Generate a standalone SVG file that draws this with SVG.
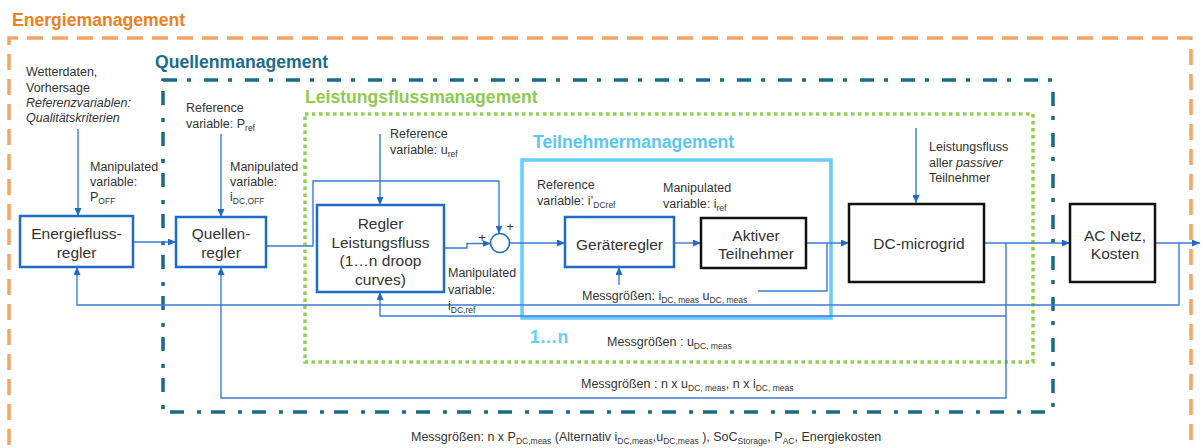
<svg xmlns="http://www.w3.org/2000/svg" width="1201" height="448" viewBox="0 0 1201 448">
  <defs>
    <marker id="ah" viewBox="0 0 8 7" refX="8" refY="3.5" markerWidth="8" markerHeight="7" markerUnits="userSpaceOnUse" orient="auto">
      <path d="M0,0 L8,3.5 L0,7 z" fill="#1F6BC5"/>
    </marker>
    <style>
      text { font-family: "Liberation Sans", Arial, sans-serif; }
      .lbl { font-size: 12.5px; fill: #333; }
      .sub { font-size: 8.5px; }
      .ntx { font-size: 15.5px; fill: #333; text-anchor: middle; }
      .title { font-size: 17.6px; font-weight: bold; }
      .blk { fill: #fff; stroke: #1F6BC5; stroke-width: 2.5; }
      .blk.dark { stroke: #111; }
      .wire { fill: none; stroke: #3A7BD5; stroke-width: 1.4; }
      .wire.arr { marker-end: url(#ah); }
    </style>
  </defs>

  <rect width="1201" height="448" fill="#fff"/>

  <!-- nested management areas -->
  <g id="energiemanagement">
    <path d="M9,470 V38 H1191 V470" fill="none" stroke="#F5A462" stroke-width="3.5" stroke-dasharray="16 9"/>
    <text class="title" x="12" y="26" fill="#F07F22">Energiemanagement</text>
  </g>
  <g id="quellenmanagement">
    <rect x="163" y="80" width="890" height="332" fill="none" stroke="#1A6B8A" stroke-width="3.5" stroke-dasharray="14 10 4 13"/>
    <text class="title" x="155" y="68" fill="#1A6D8C">Quellenmanagement</text>
  </g>
  <g id="leistungsflussmanagement">
    <rect x="305" y="114" width="728" height="248" fill="none" stroke="#92D050" stroke-width="3.5" stroke-dasharray="3.5 3.5"/>
    <text class="title" x="305" y="103" fill="#8DCB4E">Leistungsflussmanagement</text>
  </g>
  <g id="teilnehmermanagement">
    <rect x="522" y="160" width="309" height="158" fill="none" stroke="#66CCFF" stroke-width="3.5"/>
    <text class="title" x="533" y="148" fill="#5CC6F2">Teilnehmermanagement</text>
    <text class="title" x="530" y="343" fill="#66CCFF">1…n</text>
  </g>

  <!-- signal lines -->
  <g id="connectors">
    <path class="wire arr" d="M78,129 V216"/>
    <path class="wire arr" d="M221,134 V217"/>
    <path class="wire arr" d="M380,134 V205"/>
    <path class="wire arr" d="M916,128 V203"/>
    <path class="wire arr" d="M133,242 H176"/>
    <path class="wire arr" d="M266,246 H313 V181 H499 V233.5"/>
    <path class="wire arr" d="M444,248 H467 V243.5 H490.5"/>
    <path class="wire arr" d="M509.5,243 H565"/>
    <path class="wire arr" d="M674,243 H701"/>
    <path class="wire arr" d="M806,243 H849"/>
    <path class="wire arr" d="M984,243 H1070"/>
    <path class="wire arr" d="M1155,243 H1200"/>
    <path class="wire arr" d="M1179,243 V305 H77 V267"/>
    <path class="wire arr" d="M1006,243 V398 H221 V267"/>
    <path class="wire arr" d="M1006,316 H380 V292"/>
    <path class="wire" d="M827,243 V291 H758"/>
    <path class="wire arr" d="M619,285 V267"/>
    <text x="482" y="242" font-size="13" fill="#333" text-anchor="middle">+</text>
    <text x="510" y="231" font-size="13" fill="#333" text-anchor="middle">+</text>
  </g>

  <g id="summierstelle">
    <circle cx="500" cy="243" r="9.5" fill="#fff" stroke="#1F6BC5" stroke-width="1.6"/>
  </g>

  <!-- blocks -->
  <g id="energieflussregler">
    <rect class="blk" x="20" y="216" width="113" height="51"/>
    <text class="ntx" x="76.5" y="239">Energiefluss-</text>
    <text class="ntx" x="76.5" y="258">regler</text>
  </g>
  <g id="quellenregler">
    <rect class="blk" x="176" y="217" width="90" height="50"/>
    <text class="ntx" x="221" y="239">Quellen-</text>
    <text class="ntx" x="221" y="258">regler</text>
  </g>
  <g id="regler-leistungsfluss">
    <rect class="blk" x="317" y="205" width="127" height="87"/>
    <text class="ntx" x="380.5" y="229">Regler</text>
    <text class="ntx" x="380.5" y="247.5">Leistungsfluss</text>
    <text class="ntx" x="380.5" y="266">(1…n droop</text>
    <text class="ntx" x="380.5" y="284.5">curves)</text>
  </g>
  <g id="geraeteregler">
    <rect class="blk" x="565" y="217" width="109" height="50"/>
    <text class="ntx" x="619.5" y="250">Geräteregler</text>
  </g>
  <g id="aktiver-teilnehmer">
    <rect class="blk dark" x="701" y="218" width="105" height="50"/>
    <text class="ntx" x="756" y="241">Aktiver</text>
    <text class="ntx" x="756" y="259">Teilnehmer</text>
  </g>
  <g id="dc-microgrid">
    <rect class="blk dark" x="849" y="204" width="135" height="78"/>
    <text class="ntx" x="919" y="249">DC-microgrid</text>
  </g>
  <g id="ac-netz">
    <rect class="blk dark" x="1070" y="204" width="85" height="78"/>
    <text class="ntx" x="1115" y="241">AC Netz,</text>
    <text class="ntx" x="1115" y="259">Kosten</text>
  </g>

  <!-- labels -->
  <g id="labels">
    <text class="lbl" x="26" y="76">Wetterdaten,</text>
    <text class="lbl" x="26" y="92">Vorhersage</text>
    <text class="lbl" x="26" y="107" font-style="italic">Referenzvariablen:</text>
    <text class="lbl" x="26" y="122" font-style="italic">Qualitätskriterien</text>

    <text class="lbl" x="90" y="171">Manipulated</text>
    <text class="lbl" x="90" y="186">variable:</text>
    <text class="lbl" x="90" y="201">P<tspan class="sub" dy="3">OFF</tspan></text>

    <text class="lbl" x="186" y="112">Reference</text>
    <text class="lbl" x="186" y="128">variable: P<tspan class="sub" dy="3">ref</tspan></text>

    <text class="lbl" x="230" y="171">Manipulated</text>
    <text class="lbl" x="230" y="186">variable:</text>
    <text class="lbl" x="230" y="201">i<tspan class="sub" dy="3">DC,OFF</tspan></text>

    <text class="lbl" x="390" y="138">Reference</text>
    <text class="lbl" x="390" y="154">variable: u<tspan class="sub" dy="3">ref</tspan></text>

    <text class="lbl" x="448" y="277">Manipulated</text>
    <text class="lbl" x="448" y="294">variable:</text>
    <text class="lbl" x="448" y="310">i<tspan class="sub" dy="3">DC,ref</tspan></text>

    <text class="lbl" x="537" y="189">Reference</text>
    <text class="lbl" x="537" y="205">variable: i’<tspan class="sub" dy="3">DCref</tspan></text>

    <text class="lbl" x="663" y="192">Manipulated</text>
    <text class="lbl" x="663" y="208">variable: i<tspan class="sub" dy="3">ref</tspan></text>

    <text class="lbl" x="582" y="300">Messgrößen: i<tspan class="sub" dy="3">DC, meas</tspan><tspan dy="-3"> u</tspan><tspan class="sub" dy="3">DC, meas</tspan></text>

    <text class="lbl" x="929" y="151">Leistungsfluss</text>
    <text class="lbl" x="929" y="167">aller <tspan font-style="italic">passiver</tspan></text>
    <text class="lbl" x="929" y="182">Teilnehmer</text>

    <text class="lbl" x="607" y="346">Messgrößen : u<tspan class="sub" dy="3">DC, meas</tspan></text>
    <text class="lbl" x="581" y="388">Messgrößen : n x u<tspan class="sub" dy="3">DC, meas</tspan><tspan dy="-3">, n x i</tspan><tspan class="sub" dy="3">DC, meas</tspan></text>
    <text class="lbl" x="411" y="441">Messgrößen: n x P<tspan class="sub" dy="3">DC,meas</tspan><tspan dy="-3"> (Alternativ i</tspan><tspan class="sub" dy="3">DC,meas</tspan><tspan dy="-3">,u</tspan><tspan class="sub" dy="3">DC,meas</tspan><tspan dy="-3"> ), SoC</tspan><tspan class="sub" dy="3">Storage</tspan><tspan dy="-3">, P</tspan><tspan class="sub" dy="3">AC</tspan><tspan dy="-3">, Energiekosten</tspan></text>
  </g>
</svg>
